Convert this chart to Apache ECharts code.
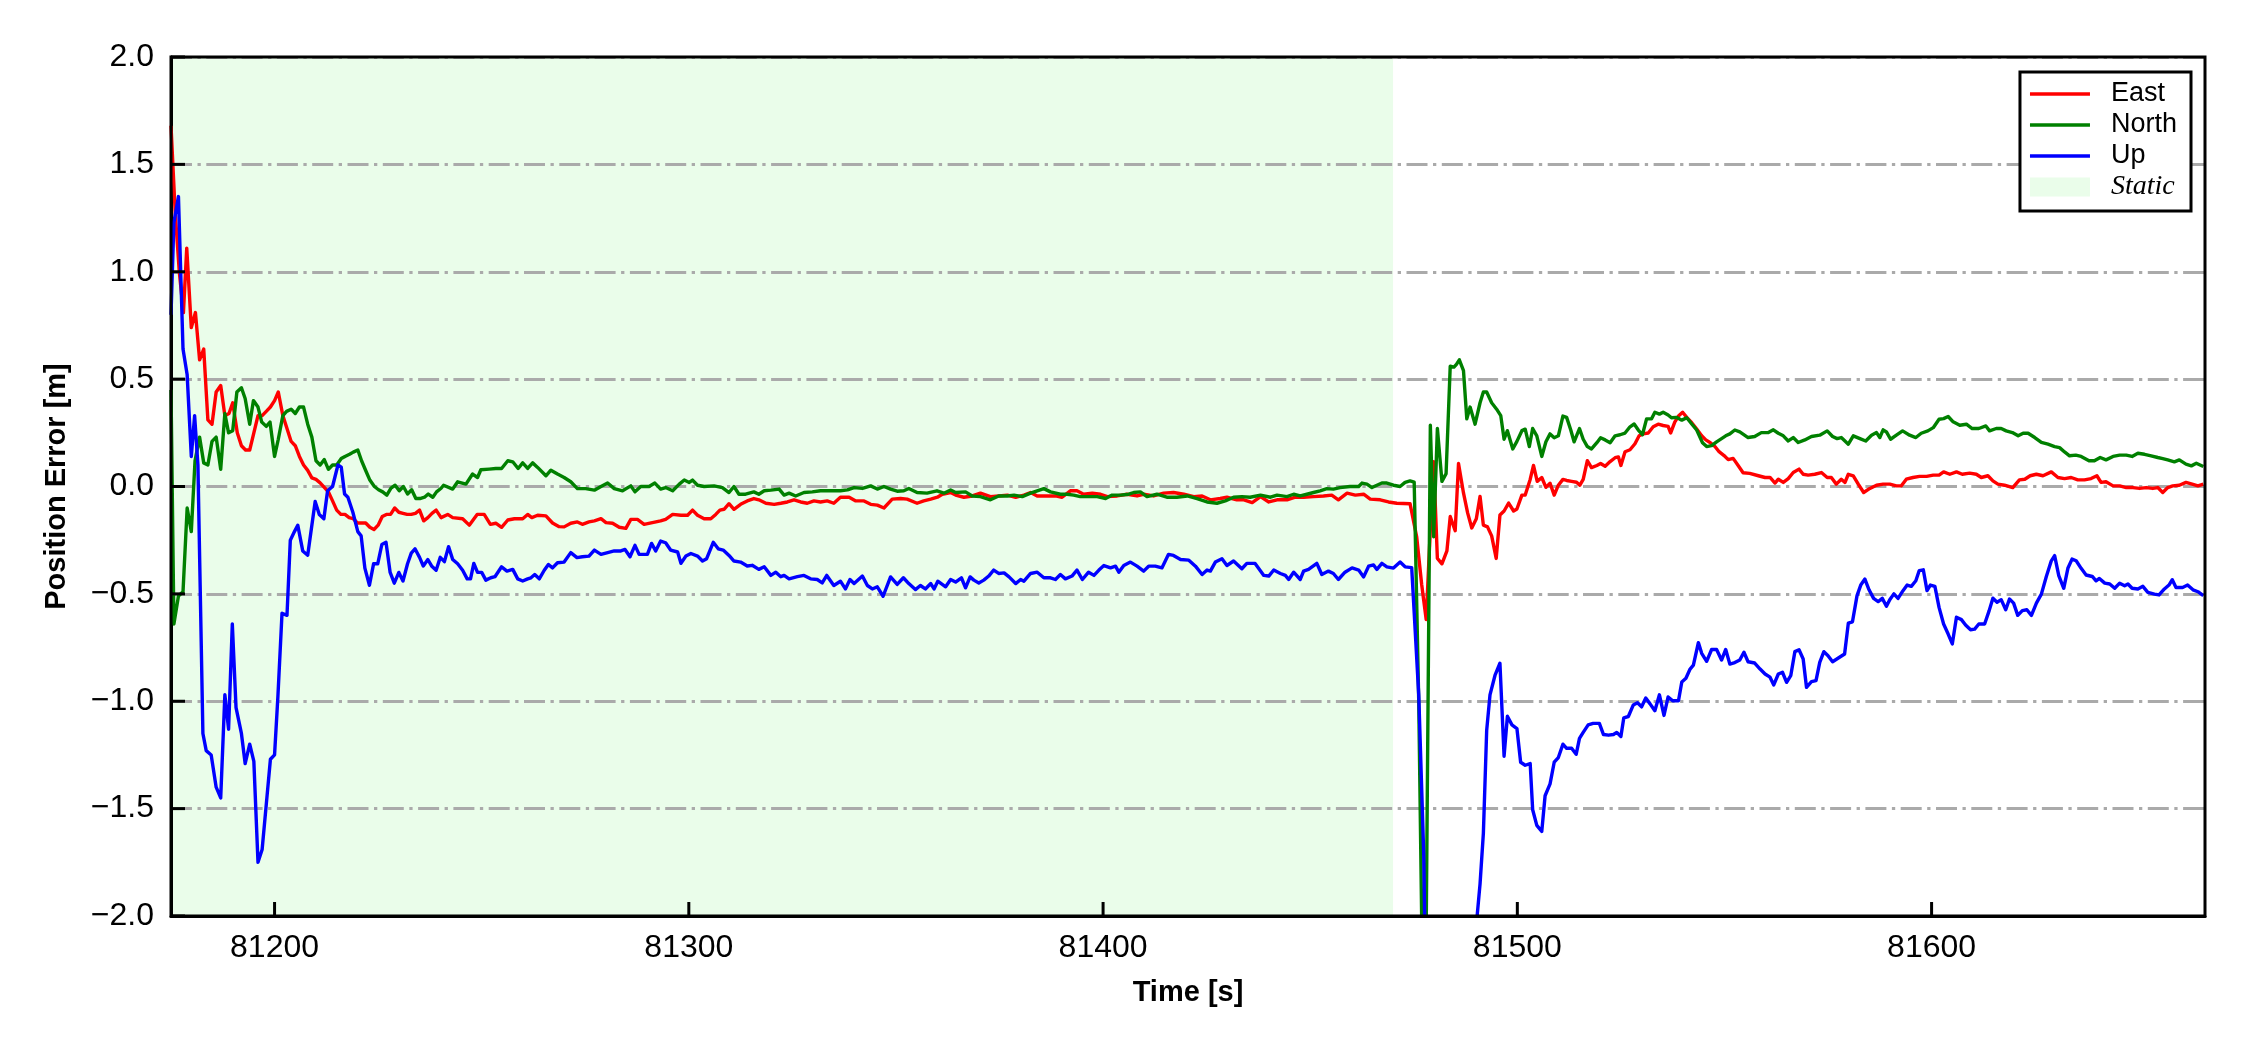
<!DOCTYPE html>
<html><head><meta charset="utf-8">
<script src="https://cdn.jsdelivr.net/npm/echarts@6/dist/echarts.min.js"></script>
<style>html,body{margin:0;padding:0;background:#fff}#c{width:2250px;height:1050px}</style>
</head><body><div id="c"></div>
<script>
const timeTicks = [81200, 81300, 81400, 81500, 81600];
const timeRange = [81175, 81666];
const staticRange = [81175, 81470];
const errorTicks = [-2, -1.5, -1, -0.5, 0, 0.5, 1, 1.5, 2];
const seriesNames = ['East', 'North', 'Up'];
const seriesColors = ['#ff0000', '#008000', '#0000ff'];

const east = [[81175.0,1.68],[81176.0,1.28],[81177.0,1.00],[81178.0,0.81],[81178.8,1.11],[81179.9,0.74],[81180.9,0.81],[81181.9,0.59],[81182.9,0.64],[81183.9,0.31],[81184.9,0.29],[81185.9,0.44],[81187.0,0.47],[81188.0,0.33],[81189.0,0.34],[81189.9,0.39],[81191.0,0.25],[81192.0,0.19],[81193.0,0.17],[81194.0,0.17],[81195.0,0.25],[81196.0,0.33],[81197.0,0.33],[81198.0,0.35],[81199.0,0.37],[81200.0,0.40],[81200.9,0.44],[81202.0,0.33],[81203.0,0.27],[81204.0,0.21],[81205.0,0.19],[81206.0,0.14],[81207.0,0.10],[81208.0,0.075],[81209.0,0.04],[81210.0,0.033],[81211.0,0.017],[81212.0,-0.004],[81213.0,-0.025],[81214.0,-0.067],[81215.0,-0.11],[81216.0,-0.13],[81217.0,-0.13],[81218.0,-0.145],[81219.0,-0.15],[81220.0,-0.17],[81221.0,-0.17],[81222.0,-0.17],[81223.0,-0.19],[81224.0,-0.20],[81225.0,-0.18],[81226.0,-0.14],[81227.0,-0.13],[81228.0,-0.13],[81229.0,-0.10],[81230.0,-0.12],[81231.0,-0.125],[81232.0,-0.13],[81233.0,-0.13],[81234.0,-0.125],[81235.0,-0.11],[81236.0,-0.16],[81237.0,-0.145],[81238.0,-0.125],[81239.0,-0.11],[81240.2,-0.145],[81241.8,-0.13],[81243.0,-0.145],[81245.4,-0.15],[81247.0,-0.18],[81248.9,-0.13],[81250.6,-0.13],[81252.1,-0.176],[81253.4,-0.171],[81254.8,-0.19],[81256.3,-0.156],[81257.9,-0.15],[81259.9,-0.15],[81261.1,-0.13],[81262.1,-0.145],[81263.5,-0.134],[81265.5,-0.137],[81267.1,-0.17],[81268.7,-0.187],[81269.9,-0.188],[81271.5,-0.171],[81273.1,-0.165],[81274.3,-0.176],[81275.9,-0.165],[81277.2,-0.16],[81278.8,-0.15],[81280.0,-0.168],[81281.6,-0.171],[81283.2,-0.19],[81284.8,-0.195],[81286.0,-0.153],[81287.6,-0.153],[81289.2,-0.176],[81291.2,-0.168],[81293.2,-0.16],[81294.4,-0.153],[81296.1,-0.13],[81298.1,-0.134],[81299.7,-0.134],[81300.9,-0.11],[81302.1,-0.134],[81303.7,-0.15],[81305.3,-0.15],[81306.5,-0.13],[81307.5,-0.11],[81308.5,-0.106],[81309.7,-0.08],[81310.9,-0.106],[81312.5,-0.083],[81314.1,-0.067],[81315.7,-0.056],[81316.9,-0.062],[81318.6,-0.078],[81320.6,-0.083],[81322.2,-0.078],[81323.8,-0.072],[81325.4,-0.062],[81327.0,-0.072],[81328.6,-0.078],[81330.2,-0.067],[81331.8,-0.072],[81333.4,-0.067],[81335.0,-0.078],[81336.6,-0.05],[81338.7,-0.05],[81340.3,-0.067],[81342.3,-0.067],[81343.9,-0.083],[81345.5,-0.087],[81347.1,-0.1],[81349.1,-0.059],[81351.1,-0.056],[81352.7,-0.059],[81355.1,-0.078],[81356.7,-0.067],[81358.4,-0.059],[81360.0,-0.05],[81361.2,-0.036],[81363.2,-0.028],[81364.4,-0.04],[81366.4,-0.05],[81368.4,-0.044],[81370.4,-0.031],[81372.8,-0.047],[81374.8,-0.044],[81376.9,-0.04],[81378.9,-0.05],[81380.9,-0.04],[81382.5,-0.028],[81384.1,-0.044],[81386.5,-0.044],[81388.5,-0.044],[81390.1,-0.05],[81392.1,-0.02],[81393.7,-0.02],[81395.3,-0.036],[81397.4,-0.031],[81399.4,-0.036],[81401.0,-0.047],[81403.4,-0.044],[81405.8,-0.036],[81408.2,-0.044],[81409.8,-0.036],[81412.2,-0.044],[81414.6,-0.031],[81417.0,-0.028],[81419.5,-0.036],[81421.9,-0.047],[81423.9,-0.044],[81425.9,-0.062],[81428.3,-0.056],[81429.9,-0.05],[81432.3,-0.062],[81434.0,-0.062],[81436.0,-0.075],[81438.0,-0.047],[81440.0,-0.072],[81442.0,-0.062],[81444.4,-0.062],[81446.4,-0.05],[81448.4,-0.05],[81450.8,-0.047],[81453.2,-0.044],[81455.2,-0.04],[81456.8,-0.062],[81458.9,-0.031],[81460.9,-0.04],[81462.9,-0.036],[81464.5,-0.059],[81466.9,-0.062],[81468.9,-0.072],[81470.9,-0.078],[81474.1,-0.08],[81475.7,-0.234],[81476.9,-0.455],[81478.0,-0.62],[81479.0,-0.197],[81479.8,0.116],[81480.7,-0.335],[81481.8,-0.36],[81483.0,-0.30],[81483.8,-0.14],[81485.0,-0.206],[81485.8,0.107],[81487.0,-0.03],[81488.0,-0.123],[81489.0,-0.193],[81490.1,-0.15],[81491.0,-0.046],[81491.8,-0.18],[81492.8,-0.188],[81493.8,-0.23],[81494.9,-0.335],[81495.8,-0.133],[81496.8,-0.114],[81497.9,-0.077],[81499.1,-0.114],[81499.9,-0.105],[81501.1,-0.04],[81501.9,-0.04],[81503.1,0.033],[81503.9,0.098],[81504.8,0.024],[81505.9,0.042],[81506.9,-0.004],[81507.9,0.015],[81508.9,-0.04],[81509.9,0.006],[81511.0,0.033],[81511.9,0.028],[81513.1,0.024],[81514.3,0.02],[81515.1,0.006],[81515.9,0.033],[81516.9,0.12],[81517.9,0.088],[81519.2,0.098],[81520.1,0.107],[81521.2,0.094],[81522.4,0.116],[81523.6,0.134],[81524.4,0.138],[81525.0,0.098],[81526.0,0.162],[81527.2,0.171],[81528.4,0.199],[81529.4,0.236],[81530.4,0.245],[81531.6,0.249],[81532.8,0.278],[81534.0,0.29],[81535.2,0.284],[81536.4,0.28],[81537.0,0.249],[81538.0,0.30],[81538.9,0.328],[81539.9,0.346],[81540.9,0.322],[81542.1,0.297],[81543.3,0.267],[81544.5,0.236],[81545.5,0.217],[81546.6,0.204],[81547.7,0.186],[81548.7,0.162],[81549.9,0.144],[81550.9,0.125],[81552.1,0.131],[81553.3,0.098],[81554.5,0.064],[81556.1,0.061],[81558.2,0.05],[81559.8,0.042],[81561.0,0.042],[81562.2,0.016],[81563.0,0.034],[81564.2,0.019],[81565.4,0.037],[81566.6,0.065],[81568.0,0.081],[81569.0,0.057],[81570.2,0.053],[81571.8,0.057],[81573.4,0.065],[81574.8,0.042],[81575.8,0.042],[81577.0,0.011],[81578.2,0.034],[81579.1,0.019],[81579.9,0.057],[81581.1,0.05],[81582.3,0.011],[81583.6,-0.028],[81585.1,-0.009],[81586.7,0.006],[81588.3,0.011],[81589.9,0.011],[81591.5,0.003],[81592.7,0.003],[81593.9,0.034],[81595.5,0.042],[81597.1,0.047],[81598.8,0.047],[81600.4,0.053],[81601.8,0.053],[81602.9,0.068],[81604.4,0.057],[81606.0,0.068],[81607.4,0.057],[81609.2,0.062],[81610.8,0.057],[81612.0,0.042],[81613.6,0.05],[81614.8,0.026],[81616.0,0.011],[81617.6,0.006],[81619.6,-0.005],[81621.2,0.031],[81622.5,0.034],[81623.8,0.05],[81625.3,0.057],[81626.9,0.05],[81628.9,0.068],[81630.5,0.042],[81632.1,0.037],[81633.7,0.042],[81635.3,0.031],[81636.9,0.031],[81638.5,0.037],[81639.9,0.05],[81640.9,0.019],[81642.1,0.022],[81643.8,0.003],[81645.4,0.003],[81647.0,-0.005],[81648.6,-0.005],[81650.2,-0.009],[81651.8,-0.005],[81653.4,-0.009],[81654.6,-0.005],[81655.8,-0.028],[81657.0,-0.005],[81658.2,0.003],[81659.8,0.006],[81661.4,0.019],[81662.9,0.011],[81664.3,0.003],[81665.6,0.011]];

const north = [[81175.0,0.45],[81175.7,-0.64],[81176.8,-0.51],[81177.9,-0.49],[81178.9,-0.10],[81179.9,-0.21],[81180.8,0.12],[81181.9,0.23],[81182.9,0.11],[81183.9,0.10],[81184.9,0.21],[81185.9,0.23],[81187.0,0.08],[81188.0,0.34],[81188.9,0.25],[81189.9,0.26],[81190.9,0.44],[81192.0,0.46],[81192.9,0.41],[81194.0,0.29],[81194.9,0.40],[81196.0,0.37],[81196.9,0.30],[81198.0,0.28],[81198.9,0.30],[81200.0,0.14],[81200.9,0.22],[81202.0,0.33],[81202.9,0.35],[81204.0,0.36],[81205.0,0.34],[81206.0,0.37],[81207.0,0.37],[81208.0,0.29],[81209.0,0.23],[81210.0,0.12],[81211.0,0.10],[81212.0,0.125],[81213.0,0.08],[81214.0,0.10],[81215.0,0.10],[81216.1,0.13],[81217.0,0.14],[81218.1,0.15],[81219.0,0.16],[81220.1,0.17],[81221.0,0.12],[81222.1,0.07],[81223.0,0.03],[81224.1,0.0],[81225.1,-0.015],[81226.1,-0.025],[81227.1,-0.04],[81228.1,-0.008],[81229.1,0.006],[81230.1,-0.02],[81231.1,0.0],[81232.1,-0.035],[81233.1,-0.015],[81234.1,-0.056],[81235.1,-0.056],[81236.2,-0.05],[81237.1,-0.035],[81238.2,-0.05],[81239.1,-0.025],[81240.2,-0.008],[81240.8,0.006],[81243.0,-0.012],[81244.2,0.022],[81246.2,0.011],[81247.8,0.058],[81249.0,0.042],[81249.8,0.078],[81251.8,0.081],[81253.4,0.084],[81254.8,0.084],[81256.3,0.12],[81257.5,0.115],[81258.8,0.084],[81259.9,0.11],[81261.1,0.084],[81262.3,0.11],[81263.5,0.089],[81265.5,0.05],[81266.7,0.076],[81268.3,0.058],[81269.9,0.042],[81271.5,0.022],[81273.1,-0.01],[81275.1,-0.01],[81277.2,-0.017],[81278.8,0.0],[81280.4,0.016],[81282.0,-0.01],[81284.0,-0.02],[81286.0,0.003],[81287.0,-0.025],[81288.4,0.0],[81290.4,0.0],[81291.8,0.016],[81293.2,-0.012],[81294.4,-0.005],[81296.1,-0.02],[81297.7,0.011],[81298.9,0.03],[81300.1,0.019],[81300.9,0.03],[81302.1,0.006],[81303.7,0.0],[81306.1,0.003],[81308.1,-0.005],[81309.7,-0.028],[81310.9,0.0],[81312.1,-0.036],[81313.7,-0.036],[81315.7,-0.025],[81316.9,-0.036],[81318.2,-0.02],[81319.8,-0.017],[81321.8,-0.012],[81323.0,-0.04],[81324.2,-0.031],[81325.8,-0.044],[81327.8,-0.028],[81329.8,-0.025],[81331.8,-0.02],[81334.2,-0.02],[81336.6,-0.02],[81338.3,-0.016],[81339.9,-0.005],[81341.9,-0.009],[81343.9,0.003],[81345.5,-0.012],[81347.1,0.0],[81348.7,-0.012],[81350.3,-0.022],[81351.9,-0.02],[81353.1,-0.009],[81355.1,-0.028],[81357.5,-0.031],[81359.9,-0.02],[81361.6,-0.031],[81363.2,-0.016],[81364.4,-0.028],[81366.8,-0.025],[81368.4,-0.044],[81370.4,-0.047],[81372.8,-0.062],[81374.8,-0.044],[81376.9,-0.044],[81378.5,-0.04],[81380.5,-0.047],[81382.5,-0.031],[81384.1,-0.02],[81385.7,-0.01],[81387.3,-0.025],[81389.7,-0.036],[81391.3,-0.036],[81392.9,-0.04],[81394.5,-0.047],[81396.5,-0.047],[81398.6,-0.047],[81400.6,-0.056],[81402.2,-0.04],[81404.2,-0.04],[81406.2,-0.036],[81407.4,-0.028],[81409.0,-0.025],[81410.6,-0.047],[81413.0,-0.036],[81415.4,-0.05],[81417.8,-0.05],[81420.3,-0.044],[81422.7,-0.056],[81425.1,-0.072],[81427.5,-0.078],[81429.5,-0.067],[81431.5,-0.05],[81433.5,-0.047],[81435.5,-0.05],[81438.0,-0.04],[81440.4,-0.05],[81442.0,-0.04],[81444.4,-0.047],[81446.0,-0.036],[81447.6,-0.044],[81449.2,-0.036],[81450.8,-0.028],[81452.4,-0.02],[81454.0,-0.01],[81455.6,-0.012],[81457.2,-0.005],[81459.6,0.0],[81461.7,0.0],[81462.5,0.016],[81463.7,0.011],[81464.9,-0.005],[81466.1,0.006],[81467.3,0.016],[81468.5,0.016],[81470.1,0.006],[81471.7,0.0],[81472.9,0.019],[81474.1,0.026],[81475.1,0.02],[81476.2,-1.0],[81477.6,-3.0],[81479.0,0.285],[81479.8,-0.234],[81480.7,0.27],[81481.8,0.024],[81482.8,0.06],[81483.8,0.56],[81484.7,0.556],[81485.3,0.569],[81486.0,0.59],[81487.0,0.54],[81487.8,0.315],[81488.6,0.37],[81489.8,0.29],[81491.0,0.39],[81491.8,0.44],[81492.6,0.44],[81493.8,0.39],[81495.0,0.36],[81496.0,0.33],[81496.8,0.22],[81497.6,0.26],[81498.9,0.175],[81499.9,0.21],[81501.1,0.26],[81501.9,0.267],[81502.9,0.186],[81503.7,0.27],[81504.7,0.236],[81505.9,0.14],[81506.9,0.208],[81507.9,0.245],[81508.9,0.227],[81509.9,0.236],[81511.0,0.328],[81511.9,0.322],[81512.9,0.263],[81513.7,0.208],[81515.0,0.27],[81515.9,0.22],[81516.9,0.186],[81517.9,0.175],[81519.2,0.204],[81520.1,0.227],[81521.2,0.217],[81522.4,0.204],[81523.6,0.236],[81524.8,0.241],[81526.0,0.249],[81527.2,0.278],[81528.2,0.291],[81529.2,0.263],[81530.2,0.241],[81531.2,0.315],[81532.4,0.315],[81533.2,0.346],[81534.3,0.337],[81535.2,0.346],[81536.4,0.333],[81537.2,0.32],[81538.4,0.322],[81539.7,0.309],[81540.9,0.32],[81542.1,0.291],[81543.3,0.263],[81544.7,0.204],[81545.7,0.186],[81546.9,0.19],[81548.1,0.208],[81549.3,0.223],[81550.3,0.236],[81551.3,0.245],[81552.5,0.263],[81553.7,0.254],[81555.7,0.228],[81557.3,0.233],[81558.9,0.251],[81560.6,0.251],[81561.8,0.264],[81563.0,0.248],[81564.2,0.236],[81565.4,0.212],[81566.6,0.228],[81567.8,0.205],[81569.4,0.217],[81571.0,0.233],[81573.0,0.239],[81574.8,0.259],[81576.1,0.233],[81577.2,0.223],[81578.2,0.228],[81579.9,0.197],[81581.1,0.236],[81582.7,0.223],[81584.1,0.212],[81585.5,0.239],[81586.7,0.251],[81587.5,0.228],[81588.3,0.264],[81589.1,0.254],[81590.1,0.22],[81591.5,0.239],[81593.0,0.259],[81594.7,0.239],[81596.2,0.228],[81597.5,0.248],[81599.1,0.259],[81600.4,0.274],[81601.8,0.313],[81602.9,0.316],[81604.0,0.326],[81605.2,0.301],[81606.8,0.285],[81608.4,0.29],[81609.8,0.27],[81611.4,0.27],[81613.1,0.282],[81614.0,0.259],[81615.6,0.27],[81616.8,0.27],[81618.0,0.259],[81619.5,0.251],[81620.9,0.236],[81622.1,0.248],[81623.3,0.248],[81624.9,0.228],[81626.5,0.205],[81628.1,0.197],[81629.7,0.186],[81630.9,0.181],[81632.1,0.161],[81633.3,0.143],[81634.8,0.146],[81636.1,0.14],[81638.0,0.12],[81639.3,0.12],[81640.7,0.135],[81642.1,0.124],[81643.8,0.14],[81645.4,0.146],[81647.0,0.146],[81648.4,0.14],[81649.8,0.155],[81651.4,0.15],[81653.0,0.143],[81654.6,0.135],[81655.8,0.13],[81657.0,0.124],[81658.6,0.115],[81659.8,0.124],[81661.4,0.104],[81662.7,0.096],[81663.9,0.108],[81665.6,0.093]];

const up = [[81175.0,0.80],[81175.7,1.23],[81176.8,1.35],[81177.9,0.64],[81178.9,0.52],[81179.9,0.14],[81180.7,0.33],[81181.5,0.10],[81182.7,-1.15],[81183.5,-1.23],[81184.7,-1.25],[81185.9,-1.40],[81187.0,-1.45],[81188.0,-0.97],[81188.9,-1.13],[81189.8,-0.64],[81190.7,-1.03],[81192.0,-1.15],[81192.9,-1.29],[81194.0,-1.20],[81195.0,-1.28],[81196.0,-1.75],[81197.0,-1.69],[81198.0,-1.48],[81199.0,-1.27],[81200.0,-1.25],[81200.8,-0.98],[81201.8,-0.59],[81203.0,-0.60],[81203.8,-0.25],[81204.8,-0.21],[81205.6,-0.18],[81206.8,-0.30],[81208.0,-0.32],[81209.8,-0.07],[81210.8,-0.13],[81211.9,-0.15],[81212.8,-0.02],[81214.0,0.0],[81215.3,0.10],[81216.1,0.09],[81216.9,-0.035],[81217.7,-0.05],[81218.9,-0.12],[81220.1,-0.21],[81220.9,-0.23],[81221.8,-0.38],[81222.9,-0.46],[81223.9,-0.36],[81224.9,-0.36],[81225.9,-0.27],[81226.9,-0.26],[81227.9,-0.40],[81228.9,-0.45],[81230.0,-0.40],[81231.0,-0.44],[81232.1,-0.36],[81233.0,-0.31],[81233.9,-0.29],[81235.0,-0.33],[81235.9,-0.37],[81237.0,-0.34],[81237.9,-0.37],[81239.0,-0.39],[81240.0,-0.33],[81241.0,-0.35],[81242.0,-0.28],[81243.0,-0.34],[81244.2,-0.36],[81245.4,-0.39],[81246.5,-0.43],[81247.3,-0.43],[81248.1,-0.358],[81249.0,-0.40],[81250.0,-0.40],[81251.0,-0.436],[81252.2,-0.425],[81253.2,-0.42],[81254.8,-0.374],[81256.1,-0.394],[81257.5,-0.386],[81258.7,-0.43],[81259.9,-0.44],[81261.1,-0.43],[81261.9,-0.425],[81262.8,-0.41],[81263.9,-0.43],[81265.1,-0.39],[81266.1,-0.363],[81267.1,-0.379],[81268.3,-0.355],[81269.9,-0.352],[81271.5,-0.308],[81273.0,-0.331],[81274.3,-0.327],[81275.9,-0.324],[81277.2,-0.296],[81278.8,-0.316],[81280.4,-0.308],[81282.0,-0.30],[81283.6,-0.30],[81284.6,-0.293],[81285.8,-0.327],[81287.0,-0.274],[81288.0,-0.316],[81290.0,-0.316],[81291.0,-0.265],[81292.0,-0.30],[81293.2,-0.254],[81294.4,-0.262],[81295.6,-0.296],[81297.3,-0.305],[81298.1,-0.358],[81299.3,-0.324],[81300.5,-0.312],[81302.1,-0.324],[81303.3,-0.347],[81304.3,-0.336],[81305.9,-0.26],[81307.1,-0.29],[81308.3,-0.296],[81309.7,-0.321],[81310.9,-0.347],[81312.5,-0.352],[81314.1,-0.37],[81315.3,-0.367],[81316.9,-0.386],[81318.2,-0.374],[81319.8,-0.414],[81321.0,-0.399],[81322.2,-0.42],[81323.0,-0.414],[81324.2,-0.43],[81326.2,-0.42],[81327.8,-0.414],[81329.4,-0.43],[81331.0,-0.433],[81332.2,-0.449],[81333.3,-0.414],[81335.0,-0.461],[81336.6,-0.441],[81337.8,-0.477],[81338.9,-0.433],[81339.9,-0.452],[81341.9,-0.417],[81343.1,-0.461],[81344.3,-0.477],[81345.5,-0.467],[81346.9,-0.511],[81348.7,-0.421],[81350.3,-0.456],[81351.8,-0.425],[81353.1,-0.452],[81354.7,-0.48],[81355.9,-0.461],[81357.1,-0.477],[81358.4,-0.452],[81359.2,-0.477],[81360.1,-0.441],[81362.0,-0.467],[81363.2,-0.433],[81364.4,-0.445],[81365.8,-0.425],[81366.8,-0.472],[81367.9,-0.421],[81368.8,-0.436],[81370.0,-0.449],[81371.2,-0.436],[81372.4,-0.417],[81373.6,-0.389],[81374.8,-0.405],[81376.1,-0.402],[81377.3,-0.421],[81378.9,-0.452],[81380.1,-0.433],[81380.9,-0.441],[81382.5,-0.405],[81384.1,-0.399],[81385.7,-0.425],[81387.3,-0.425],[81388.5,-0.433],[81389.7,-0.41],[81390.9,-0.43],[81392.5,-0.417],[81393.7,-0.389],[81395.0,-0.433],[81396.5,-0.399],[81397.8,-0.414],[81399.0,-0.389],[81400.2,-0.368],[81401.8,-0.379],[81403.0,-0.371],[81403.8,-0.399],[81405.0,-0.368],[81406.6,-0.352],[81408.2,-0.371],[81409.8,-0.394],[81411.0,-0.371],[81412.6,-0.371],[81414.2,-0.379],[81415.8,-0.316],[81417.0,-0.321],[81418.7,-0.34],[81420.7,-0.343],[81422.3,-0.371],[81423.9,-0.41],[81425.1,-0.389],[81425.9,-0.394],[81427.1,-0.352],[81428.7,-0.336],[81429.9,-0.368],[81431.5,-0.347],[81433.5,-0.383],[81434.7,-0.358],[81436.7,-0.358],[81438.8,-0.414],[81440.0,-0.417],[81441.2,-0.389],[81442.8,-0.405],[81444.0,-0.414],[81444.8,-0.433],[81446.0,-0.399],[81447.6,-0.433],[81448.4,-0.394],[81449.6,-0.386],[81451.6,-0.358],[81452.8,-0.41],[81454.4,-0.394],[81455.6,-0.405],[81456.8,-0.433],[81458.4,-0.399],[81460.1,-0.379],[81461.7,-0.389],[81462.9,-0.421],[81464.1,-0.371],[81465.3,-0.365],[81466.1,-0.386],[81467.3,-0.358],[81468.5,-0.374],[81470.1,-0.38],[81471.7,-0.352],[81472.9,-0.374],[81474.5,-0.378],[81476.2,-0.97],[81477.4,-1.71],[81478.4,-3.0],[81489.2,-2.6],[81490.2,-2.02],[81491.0,-1.85],[81491.8,-1.615],[81492.6,-1.136],[81493.4,-0.97],[81494.6,-0.88],[81495.8,-0.823],[81496.8,-1.256],[81497.6,-1.07],[81498.7,-1.11],[81499.9,-1.127],[81500.8,-1.284],[81501.9,-1.298],[81503.1,-1.29],[81503.7,-1.505],[81504.7,-1.578],[81505.9,-1.606],[81506.7,-1.44],[81507.9,-1.385],[81508.9,-1.284],[81509.9,-1.262],[81511.0,-1.2],[81511.9,-1.219],[81513.1,-1.219],[81514.2,-1.247],[81515.0,-1.173],[81515.9,-1.145],[81517.1,-1.11],[81518.3,-1.103],[81519.8,-1.103],[81520.8,-1.155],[81522.0,-1.158],[81523.2,-1.155],[81524.0,-1.145],[81525.0,-1.164],[81525.7,-1.077],[81526.8,-1.071],[81528.0,-1.017],[81529.0,-1.007],[81530.0,-1.026],[81531.0,-0.985],[81532.0,-1.011],[81533.2,-1.044],[81534.3,-0.97],[81535.4,-1.066],[81536.4,-0.98],[81537.5,-0.998],[81538.9,-0.998],[81539.7,-0.91],[81540.7,-0.893],[81541.7,-0.85],[81542.5,-0.832],[81543.7,-0.727],[81544.5,-0.777],[81545.7,-0.814],[81546.9,-0.759],[81548.1,-0.759],[81549.3,-0.808],[81550.3,-0.759],[81551.3,-0.827],[81552.5,-0.82],[81553.7,-0.808],[81554.7,-0.772],[81555.7,-0.816],[81557.3,-0.822],[81558.6,-0.85],[81559.8,-0.873],[81561.0,-0.888],[81561.9,-0.924],[81563.0,-0.873],[81564.0,-0.865],[81565.0,-0.912],[81566.0,-0.881],[81567.0,-0.769],[81568.0,-0.76],[81569.0,-0.803],[81569.8,-0.935],[81571.0,-0.909],[81572.1,-0.904],[81573.0,-0.819],[81574.0,-0.769],[81575.0,-0.788],[81576.1,-0.816],[81577.4,-0.8],[81579.0,-0.78],[81579.9,-0.636],[81580.9,-0.63],[81582.0,-0.508],[81582.9,-0.459],[81583.9,-0.431],[81584.9,-0.481],[81586.0,-0.521],[81587.1,-0.536],[81588.1,-0.521],[81589.1,-0.558],[81589.9,-0.527],[81590.9,-0.5],[81591.9,-0.521],[81593.1,-0.485],[81594.1,-0.459],[81595.1,-0.465],[81596.2,-0.439],[81597.0,-0.392],[81598.0,-0.388],[81598.9,-0.485],[81599.7,-0.459],[81600.8,-0.465],[81601.8,-0.563],[81602.9,-0.64],[81604.0,-0.687],[81605.0,-0.733],[81606.0,-0.609],[81607.2,-0.62],[81608.2,-0.645],[81609.4,-0.667],[81610.4,-0.664],[81611.4,-0.64],[81612.8,-0.64],[81613.9,-0.578],[81614.8,-0.52],[81615.8,-0.539],[81616.8,-0.527],[81617.9,-0.574],[81618.8,-0.524],[81619.8,-0.543],[81620.8,-0.6],[81621.9,-0.578],[81623.0,-0.574],[81624.1,-0.6],[81625.3,-0.543],[81626.5,-0.501],[81627.7,-0.419],[81628.9,-0.346],[81629.7,-0.322],[81630.7,-0.415],[81631.9,-0.474],[81632.9,-0.381],[81633.9,-0.338],[81634.9,-0.346],[81636.1,-0.381],[81637.3,-0.412],[81638.8,-0.419],[81639.7,-0.439],[81640.5,-0.428],[81641.8,-0.45],[81643.0,-0.454],[81644.2,-0.474],[81645.4,-0.45],[81646.6,-0.462],[81647.4,-0.454],[81648.4,-0.474],[81649.8,-0.477],[81651.0,-0.465],[81652.2,-0.493],[81653.8,-0.501],[81654.9,-0.505],[81656.2,-0.477],[81657.3,-0.459],[81658.1,-0.434],[81659.0,-0.47],[81660.6,-0.47],[81661.8,-0.459],[81663.1,-0.481],[81664.3,-0.49],[81665.6,-0.508]];

const seriesData = [east, north, up];
const STATIC_COLOR = '#eafdea';
const SANS = "'Liberation Sans', Arial, sans-serif";
const TICK_LEN = 14;

const chart = echarts.init(document.getElementById('c'), null, {renderer: 'canvas'});
const fmtY = v => (v < 0 ? '\u2212' : '') + Math.abs(v).toFixed(1);
const lineIcon = 'path://M0,0H62V3.5H0Z';

const series = [{
  name: 'Static', type: 'custom', z: 0, color: STATIC_COLOR, silent: true,
  data: [[staticRange[0], staticRange[1]]],
  renderItem: function (params, api) {
    const p0 = api.coord([api.value(0), errorTicks[errorTicks.length - 1]]);
    const p1 = api.coord([api.value(1), errorTicks[0]]);
    return {type: 'rect', shape: {x: p0[0], y: p0[1], width: p1[0] - p0[0], height: p1[1] - p0[1]},
            style: {fill: STATIC_COLOR}};
  },
  encode: {x: [0, 1]}
}, {
  // inward major ticks on the bottom axis
  name: 'xticks', type: 'custom', z: 6, silent: true, clip: false,
  data: timeTicks.map(t => [t, errorTicks[0]]),
  renderItem: function (params, api) {
    const p = api.coord([api.value(0), api.value(1)]);
    return {type: 'line', shape: {x1: p[0], y1: p[1], x2: p[0], y2: p[1] - TICK_LEN}, style: {stroke: '#000', lineWidth: 3}};
  },
  encode: {x: 0, y: 1}
}, {
  // inward major ticks on the left axis
  name: 'yticks', type: 'custom', z: 6, silent: true, clip: false,
  data: errorTicks.map(v => [timeRange[0], v]),
  renderItem: function (params, api) {
    const p = api.coord([api.value(0), api.value(1)]);
    return {type: 'line', shape: {x1: p[0], y1: p[1], x2: p[0] + TICK_LEN, y2: p[1]}, style: {stroke: '#000', lineWidth: 3}};
  },
  encode: {x: 0, y: 1}
}];
seriesNames.forEach((n, i) => {
  series.push({
    name: n, type: 'line', data: seriesData[i], z: 3, color: seriesColors[i],
    symbol: 'none', showSymbol: false, clip: true,
    lineStyle: {width: 3.4, color: seriesColors[i], join: 'round'}
  });
});

chart.setOption({
  animation: false,
  backgroundColor: '#ffffff',
  grid: {left: 171, top: 57, right: 45, bottom: 134, show: true, borderColor: '#000', borderWidth: 3, backgroundColor: 'transparent', z: 5},
  legend: {
    orient: 'vertical', right: 59, top: 72, selectedMode: false,
    backgroundColor: '#fff', borderColor: '#000', borderWidth: 3, borderRadius: 0,
    padding: [8, 14, 10, 10], itemGap: 3, itemWidth: 60, itemHeight: 19, align: 'left',
    textStyle: {fontSize: 27, fontFamily: SANS, color: '#000', padding: [0, 0, 0, 16], lineHeight: 28},
    data: [
      {name: 'East', icon: lineIcon},
      {name: 'North', icon: lineIcon},
      {name: 'Up', icon: lineIcon},
      {name: 'Static', icon: 'rect', itemStyle: {color: STATIC_COLOR, borderWidth: 0},
       textStyle: {fontFamily: "'Liberation Serif', 'Times New Roman', serif", fontStyle: 'italic', fontSize: 28}}
    ],
    z: 10
  },
  xAxis: {
    type: 'value', min: timeRange[0], max: timeRange[1], z: 4, position: 'bottom',
    name: 'Time [s]', nameLocation: 'middle', nameGap: 62,
    nameTextStyle: {fontSize: 29, fontWeight: 'bold', fontFamily: SANS, color: '#000'},
    axisLine: {show: true, onZero: false, lineStyle: {color: '#000', width: 3}},
    axisTick: {show: false},
    axisLabel: {show: true, customValues: timeTicks, margin: 16, fontSize: 32, fontFamily: SANS, color: '#000', formatter: v => String(v)},
    splitLine: {show: false}
  },
  yAxis: {
    type: 'value', min: errorTicks[0], max: errorTicks[errorTicks.length - 1], interval: 0.5, z: 2, position: 'left',
    name: 'Position Error [m]', nameLocation: 'middle', nameGap: 100,
    nameTextStyle: {fontSize: 29, fontWeight: 'bold', fontFamily: SANS, color: '#000'},
    axisLine: {show: true, onZero: false, lineStyle: {color: '#000', width: 3}},
    axisTick: {show: false},
    axisLabel: {show: true, margin: 17, fontSize: 32, fontFamily: SANS, color: '#000', formatter: fmtY},
    splitLine: {show: true, lineStyle: {color: '#aaaaaa', width: 3, type: [21, 5.5, 3.3, 5.5]}}
  },
  series: series
});
</script></body></html>
